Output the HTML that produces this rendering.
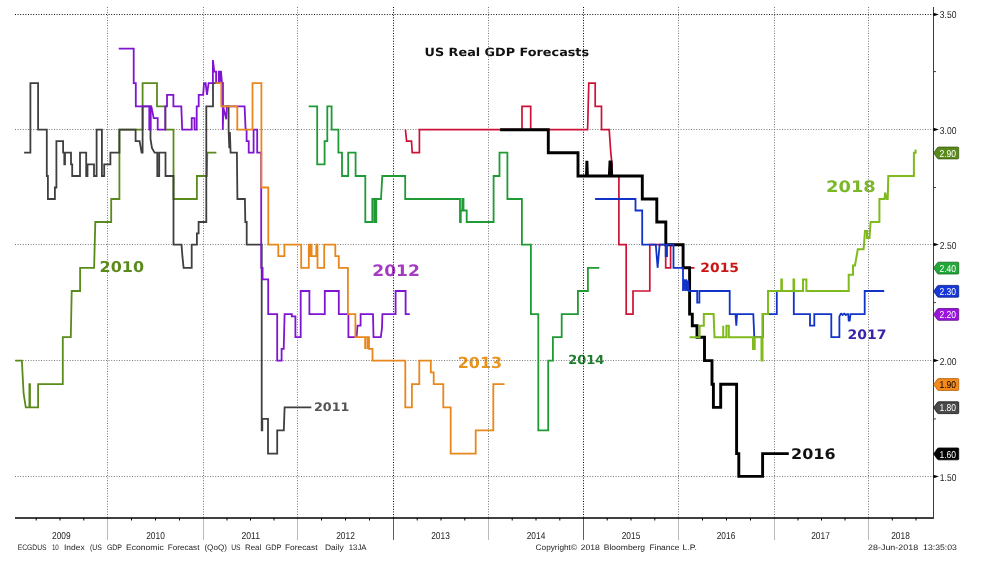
<!DOCTYPE html>
<html lang="en"><head><meta charset="utf-8"><title>US Real GDP Forecasts</title>
<style>html,body{margin:0;padding:0;background:#fff}body{width:984px;height:572px;overflow:hidden}svg{display:block}text{text-rendering:geometricPrecision}.ax{font-family:"Liberation Sans","DejaVu Sans",sans-serif;font-size:10px;fill:#1c1c1c}.ft{font-family:"Liberation Sans","DejaVu Sans",sans-serif;font-size:7.9px;fill:#1c1c1c}.lb{font-family:"DejaVu Sans","Liberation Sans",sans-serif;font-weight:bold}.tg{font-family:"Liberation Sans","DejaVu Sans",sans-serif;font-size:10px}</style></head><body>
<svg width="984" height="572" viewBox="0 0 984 572">
<rect width="984" height="572" fill="#fff"/>
<text class="lb" x="99.55" y="272.00" font-size="14.91" fill="#5b8a1c" textLength="44.46" lengthAdjust="spacingAndGlyphs">2010</text>
<text class="lb" x="313.95" y="411.00" font-size="11.82" fill="#555555" textLength="35.40" lengthAdjust="spacingAndGlyphs">2011</text>
<text class="lb" x="372.30" y="276.00" font-size="15.73" fill="#a23cc2" textLength="47.57" lengthAdjust="spacingAndGlyphs">2012</text>
<text class="lb" x="457.75" y="368.00" font-size="15.32" fill="#e8931e" textLength="44.36" lengthAdjust="spacingAndGlyphs">2013</text>
<text class="lb" x="568.15" y="364.00" font-size="12.51" fill="#1c7d2c" textLength="36.07" lengthAdjust="spacingAndGlyphs">2014</text>
<text class="lb" x="700.35" y="272.00" font-size="12.78" fill="#cc1414" textLength="38.62" lengthAdjust="spacingAndGlyphs">2015</text>
<text class="lb" x="791.10" y="459.00" font-size="14.56" fill="#111111" textLength="44.44" lengthAdjust="spacingAndGlyphs">2016</text>
<text class="lb" x="847.55" y="339.00" font-size="12.99" fill="#3a24a8" textLength="38.94" lengthAdjust="spacingAndGlyphs">2017</text>
<text class="lb" x="826.10" y="192.00" font-size="15.73" fill="#7ab828" textLength="49.68" lengthAdjust="spacingAndGlyphs">2018</text>
<text class="lb" x="424.55" y="56.00" font-size="11.40" fill="#111" textLength="164.57" lengthAdjust="spacingAndGlyphs">US Real GDP Forecasts</text>
<path d="M15.0 14.5H933.5" fill="none" stroke="#111" stroke-width="1" stroke-dasharray="1 1.6"/>
<path d="M15.0 129.5H933.5" fill="none" stroke="#7a7a7a" stroke-width="1" stroke-dasharray="1 1.6"/>
<path d="M15.0 244.5H933.5" fill="none" stroke="#7a7a7a" stroke-width="1" stroke-dasharray="1 1.6"/>
<path d="M15.0 360.5H933.5" fill="none" stroke="#7a7a7a" stroke-width="1" stroke-dasharray="1 1.6"/>
<path d="M15.0 476.5H933.5" fill="none" stroke="#7a7a7a" stroke-width="1" stroke-dasharray="1 1.6"/>
<path d="M107.5 7V517.9" fill="none" stroke="#777" stroke-width="1" stroke-dasharray="1 1.6"/>
<path d="M107.5 517.9V540" fill="none" stroke="#aaa" stroke-width="0.8"/>
<path d="M203.5 7V517.9" fill="none" stroke="#777" stroke-width="1" stroke-dasharray="1 1.6"/>
<path d="M203.5 517.9V540" fill="none" stroke="#aaa" stroke-width="0.8"/>
<path d="M297.5 7V517.9" fill="none" stroke="#777" stroke-width="1" stroke-dasharray="1 1.6"/>
<path d="M297.5 517.9V540" fill="none" stroke="#aaa" stroke-width="0.8"/>
<path d="M393.5 7V517.9" fill="none" stroke="#000" stroke-width="1" stroke-dasharray="1 1.6"/>
<path d="M393.5 517.9V540" fill="none" stroke="#333" stroke-width="0.8"/>
<path d="M488.5 7V517.9" fill="none" stroke="#777" stroke-width="1" stroke-dasharray="1 1.6"/>
<path d="M488.5 517.9V540" fill="none" stroke="#aaa" stroke-width="0.8"/>
<path d="M583.5 7V517.9" fill="none" stroke="#000" stroke-width="1" stroke-dasharray="1 1.6"/>
<path d="M583.5 517.9V540" fill="none" stroke="#333" stroke-width="0.8"/>
<path d="M678.5 7V517.9" fill="none" stroke="#777" stroke-width="1" stroke-dasharray="1 1.6"/>
<path d="M678.5 517.9V540" fill="none" stroke="#aaa" stroke-width="0.8"/>
<path d="M774.5 7V517.9" fill="none" stroke="#777" stroke-width="1" stroke-dasharray="1 1.6"/>
<path d="M774.5 517.9V540" fill="none" stroke="#aaa" stroke-width="0.8"/>
<path d="M868.5 7V517.9" fill="none" stroke="#777" stroke-width="1" stroke-dasharray="1 1.6"/>
<path d="M868.5 517.9V540" fill="none" stroke="#aaa" stroke-width="0.8"/>
<path d="M15.4 360.6L21.9 360.6L22.6 374.8L23.6 393.5L25.8 407.4L29.4 407.4L29.4 384.2L30.0 384.2L30.0 407.4L38.1 407.4L38.1 384.2L62.8 384.2L62.8 337.2L70.8 337.2L71.7 291.0L80.1 291.0L80.1 267.8L94.1 267.8L95.3 222.0L111.2 222.0L111.2 199.0L119.4 199.0L119.4 129.7L142.6 129.7L142.6 83.2L157.0 83.2L157.0 106.4L165.4 106.4L165.4 129.7L173.5 129.7L173.5 199.0L196.9 199.0L196.9 176.0L206.8 176.0L207.3 152.7L216.4 152.7" fill="none" stroke="#5b8a1c" stroke-width="1.8" stroke-linejoin="miter" stroke-miterlimit="1.5" stroke-linecap="butt"/>
<path d="M24.1 152.7L30.4 152.7L30.4 83.2L38.1 83.2L38.1 129.7L46.8 129.7L46.8 176.0L47.9 176.0L47.9 199.0L54.9 199.0L54.9 187.5L56.4 187.5L56.4 141.2L63.1 141.2L63.1 152.7L64.3 152.7L64.3 164.3L65.0 164.3L65.0 152.7L71.0 152.7L71.0 164.3L72.2 164.3L72.2 176.0L80.0 176.0L80.0 152.7L86.2 152.7L86.2 176.0L87.5 176.0L87.5 164.3L94.0 164.3L94.0 176.0L95.6 176.0L95.6 176.0L96.6 176.0L96.6 129.7L101.9 129.7L101.9 176.0L103.4 176.0L103.4 176.0L104.2 176.0L104.2 164.3L110.4 164.3L110.4 152.7L119.4 152.7L119.4 129.7L135.6 129.7L135.6 141.2L139.6 141.2L141.6 152.7L142.6 152.7L142.6 106.4L150.5 106.4L150.5 138.9L152.0 148.1L154.6 152.7L157.3 152.7L157.3 176.0L159.2 176.0L159.2 152.7L165.5 152.7L165.5 176.0L173.5 176.0L173.5 244.7L181.5 244.7L182.4 256.2L183.6 267.8L191.7 267.8L191.7 244.7L196.9 244.7L196.9 233.4L198.6 233.4L198.6 222.0L206.3 222.0L206.3 106.4L213.0 106.4L213.0 83.2L222.6 83.2L222.6 106.4L228.6 106.4L228.6 129.7L229.3 148.1L229.9 132.0L230.6 152.7L236.9 152.7L237.4 199.0L244.9 199.0L245.3 222.0L246.7 222.0L246.7 244.7L261.7 244.7L261.7 430.4L262.3 430.4L262.3 418.9L268.0 418.9L268.0 453.6L277.2 453.6L277.2 430.4L283.8 430.4L284.6 407.4L311.3 407.4" fill="none" stroke="#3f3f3f" stroke-width="1.8" stroke-linejoin="miter" stroke-miterlimit="1.5" stroke-linecap="butt"/>
<path d="M118.7 48.7L133.7 48.7L133.7 83.2L135.8 83.2L135.8 106.4L149.3 106.4L149.3 129.7L150.5 129.7L150.5 106.4L151.3 106.4L153.7 118.1L157.7 118.1L157.7 129.7L165.3 129.7L165.3 106.4L167.0 106.4L167.0 94.8L173.4 94.8L173.4 106.4L181.3 106.4L182.2 129.7L191.7 129.7L191.7 118.1L194.5 118.1L194.5 129.7L196.7 129.7L196.7 106.4L198.7 106.4L198.7 94.8L203.2 94.8L204.0 83.2L205.6 83.2L207.0 94.8L208.6 83.2L212.9 83.2L212.9 60.0L214.3 71.6L216.1 71.6L216.1 83.2L218.8 83.2L218.8 71.6L219.6 71.6L219.6 80.9L220.3 80.9L220.3 71.6L221.0 71.6L222.0 83.2L222.8 83.2L222.8 129.7L223.4 107.6L226.3 119.2L226.9 106.4L244.6 106.4L245.6 129.7L246.6 129.7L246.6 141.2L248.7 141.2L248.7 152.7L253.6 152.7L253.6 129.7L257.2 129.7L257.2 152.7L261.2 152.7L261.2 267.8L262.6 267.8L262.6 279.4L268.2 279.4L268.2 314.1L277.2 314.1L277.2 360.6L281.6 360.6L281.6 348.9L283.7 348.9L284.6 314.1L291.8 314.1L291.8 316.4L295.4 316.4L295.4 337.2L300.7 337.2L300.7 291.0L309.4 291.0L309.4 314.1L324.8 314.1L324.8 291.0L338.8 291.0L338.8 314.1L348.4 314.1L348.4 337.2L356.6 337.2L357.5 325.7L360.6 325.7L360.6 314.1L373.0 314.1L373.5 337.2L380.8 337.2L382.0 328.0L382.4 314.1L395.6 314.1L395.6 291.0L405.6 291.0L405.6 314.1L409.8 314.1" fill="none" stroke="#8014d0" stroke-width="1.8" stroke-linejoin="miter" stroke-miterlimit="1.5" stroke-linecap="butt"/>
<path d="M215.5 83.2L221.3 83.2L221.3 106.4L237.3 106.4L237.3 129.7L252.5 129.7L252.5 83.2L261.4 83.2L261.4 187.5L268.3 187.5L268.3 244.7L278.3 244.7L278.3 256.2L284.4 256.2L284.4 244.7L301.2 244.7L301.2 267.8L308.8 267.8L308.8 244.7L310.3 244.7L310.3 256.2L311.0 256.2L311.0 244.7L311.6 244.7L311.6 256.2L316.3 256.2L316.3 244.7L317.5 244.7L317.5 267.8L324.2 267.8L324.2 244.7L335.3 244.7L335.3 256.2L338.8 256.2L338.8 267.8L347.9 267.8L347.9 314.1L355.4 314.1L355.4 337.2L365.1 337.2L365.1 348.9L365.1 337.2L367.3 337.2L367.3 348.9L367.3 337.2L369.0 337.2L369.0 348.9L372.5 348.9L372.5 360.6L405.3 360.6L405.3 407.4L411.9 407.4L411.9 384.2L419.3 384.2L419.3 360.6L430.8 360.6L430.8 372.4L433.7 372.4L433.7 384.2L443.3 384.2L443.3 407.4L450.7 407.4L450.7 453.6L475.7 453.6L475.7 430.4L493.3 430.4L493.3 384.2L504.5 384.2" fill="none" stroke="#e8871c" stroke-width="1.8" stroke-linejoin="miter" stroke-miterlimit="1.5" stroke-linecap="butt"/>
<path d="M308.7 106.4L317.2 106.4L317.2 164.3L324.6 164.3L324.6 141.2L327.3 141.2L327.3 106.4L331.6 106.4L331.6 129.7L338.4 129.7L338.4 152.7L342.0 152.7L342.0 176.0L348.2 176.0L348.2 152.7L355.6 152.7L355.6 176.0L365.3 176.0L365.3 222.0L372.3 222.0L372.3 199.0L374.3 199.0L374.3 222.0L375.0 222.0L375.0 199.0L375.7 199.0L375.7 222.0L376.3 222.0L376.3 199.0L381.0 199.0L382.3 176.0L405.2 176.0L405.2 199.0L460.0 199.0L460.0 222.0L460.8 222.0L460.8 210.5L462.3 210.5L462.3 199.0L463.5 199.0L463.5 210.5L466.7 210.5L466.7 222.0L493.6 222.0L493.6 176.0L499.5 176.0L499.5 152.7L507.4 152.7L507.4 199.0L521.9 199.0L521.9 244.7L530.9 244.7L530.9 314.1L538.3 314.1L538.3 430.4L548.2 430.4L548.2 360.6L552.9 360.6L552.9 337.2L561.7 337.2L561.7 314.1L577.9 314.1L577.9 291.0L587.9 291.0L587.9 267.8L599.3 267.8" fill="none" stroke="#1f9a34" stroke-width="1.8" stroke-linejoin="miter" stroke-miterlimit="1.5" stroke-linecap="butt"/>
<path d="M405.4 129.7L406.6 141.2L411.5 141.2L412.2 152.7L419.4 152.7L419.4 129.7L522.0 129.7L522.0 106.4L530.7 106.4L530.7 129.7L587.6 129.7L588.8 83.2L595.2 83.2L595.2 106.4L601.5 106.4L601.5 129.7L609.2 129.7L610.8 152.7L612.0 164.3L612.0 176.0L618.9 176.0L618.9 244.7L626.2 244.7L626.2 314.1L633.0 314.1L633.0 291.0L649.8 291.0L649.8 244.7L665.7 244.7L665.7 267.8L670.6 267.8L670.6 244.7L683.1 244.7L683.1 267.8L694.5 267.8" fill="none" stroke="#cc1236" stroke-width="1.7" stroke-linejoin="miter" stroke-miterlimit="1.5" stroke-linecap="butt"/>
<path d="M500.1 129.7L548.3 129.7L548.3 152.7L578.0 152.7L578.0 176.0L586.5 176.0L586.9 160.9L587.4 176.0L609.3 176.0L610.0 162.0L611.0 162.0L611.7 176.0L642.3 176.0L642.3 199.0L656.8 199.0L656.8 222.0L665.8 222.0L665.8 244.7L683.1 244.7L683.1 267.8L689.6 267.8L689.6 314.1L692.3 314.1L692.3 325.7L697.0 325.7L697.0 337.2L704.5 337.2L704.5 360.6L712.0 360.6L712.0 384.2L713.4 384.2L713.4 407.4L720.7 407.4L720.7 384.2L736.6 384.2L736.6 453.6L738.8 453.6L738.8 476.4L762.6 476.4L762.6 453.6L788.8 453.6" fill="none" stroke="#000000" stroke-width="2.9" stroke-linejoin="miter" stroke-miterlimit="1.5" stroke-linecap="butt"/>
<path d="M595.1 199.0L635.5 199.0L635.5 210.5L642.2 210.5L642.2 244.7L655.8 244.7L657.6 267.8L659.6 244.7L665.7 244.7L665.7 256.2L667.0 256.2L667.0 244.7L673.5 244.7L673.5 267.8L683.0 267.8L683.0 291.0L684.2 279.4L685.2 291.0L686.2 279.4L687.2 291.0L688.0 280.6L688.7 291.0L697.2 291.0L697.2 302.6L699.4 302.6L699.4 291.0L729.7 291.0L729.7 314.1L735.5 314.1L736.3 325.7L737.1 314.1L753.3 314.1L754.3 337.2L762.8 337.2L762.8 314.1L776.8 314.1L776.8 291.0L793.8 291.0L793.8 314.1L810.0 314.1L810.0 325.7L814.3 325.7L814.3 314.1L831.3 314.1L831.3 337.2L839.4 337.2L839.4 316.4L841.0 313.4L842.5 315.0L844.2 313.6L845.8 315.0L847.0 314.1L848.2 314.1L848.7 320.6L849.7 320.6L850.5 314.1L864.7 314.1L864.7 291.0L884.2 291.0" fill="none" stroke="#1233c8" stroke-width="1.8" stroke-linejoin="miter" stroke-miterlimit="1.5" stroke-linecap="butt"/>
<path d="M689.5 337.2L699.6 337.2L699.6 325.7L703.8 325.7L703.8 314.1L713.6 314.1L714.5 337.2L723.2 337.2L723.2 325.7L723.2 337.2L726.4 337.2L726.4 325.7L728.8 325.7L728.8 337.2L753.0 337.2L753.0 348.9L754.7 348.9L754.7 337.2L761.5 337.2L761.5 360.6L762.5 360.6L762.5 314.1L768.0 314.1L768.0 291.0L781.3 291.0L781.3 279.4L781.9 279.4L781.9 291.0L793.5 291.0L793.5 279.4L794.1 279.4L794.1 291.0L803.0 291.0L803.0 279.4L806.4 279.4L806.4 291.0L848.7 291.0L848.7 274.8L853.0 274.8L853.0 265.5L855.0 265.5L857.8 249.3L863.6 249.3L865.0 231.1L867.0 231.1L867.0 237.9L869.5 237.9L870.6 222.0L879.4 222.0L879.4 199.0L884.6 199.0L885.1 192.6L886.8 199.0L887.7 199.0L888.3 176.0L913.9 176.0L913.9 152.7L915.6 152.7L915.6 150.4L916.4 150.4" fill="none" stroke="#7fba1e" stroke-width="2.0" stroke-linejoin="miter" stroke-miterlimit="1.5" stroke-linecap="butt"/>
<path d="M15.0 517.9H934.0" stroke="#000" stroke-width="1.5" fill="none"/>
<path d="M933.5 7V517.9" stroke="#3c3c3c" stroke-width="1" fill="none"/>
<path d="M36.2 517.9v2.6M60.0 517.9v2.6M83.8 517.9v2.6M131.5 517.9v2.6M155.5 517.9v2.6M179.5 517.9v2.6M227.0 517.9v2.6M250.5 517.9v2.6M274.0 517.9v2.6M321.5 517.9v2.6M345.5 517.9v2.6M369.5 517.9v2.6M417.2 517.9v2.6M441.0 517.9v2.6M464.8 517.9v2.6M512.2 517.9v2.6M536.0 517.9v2.6M559.8 517.9v2.6M607.2 517.9v2.6M631.0 517.9v2.6M654.8 517.9v2.6M702.5 517.9v2.6M726.5 517.9v2.6M750.5 517.9v2.6M798.0 517.9v2.6M821.5 517.9v2.6M845.0 517.9v2.6M892.3 517.9v2.6M916.0 517.9v2.6" stroke="#000" stroke-width="1" fill="none"/>
<path d="M933.5 71.6h2.4M933.5 187.5h2.4M933.5 302.6h2.4M933.5 418.9h2.4" stroke="#333" stroke-width="1" fill="none"/>
<path d="M933.5 12.7l5.4 1.8l-5.4 1.8z" fill="#000"/>
<text class="ax" x="939.8" y="17.9" textLength="16.6" lengthAdjust="spacingAndGlyphs">3.50</text>
<path d="M933.5 127.7l5.4 1.8l-5.4 1.8z" fill="#000"/>
<text class="ax" x="939.8" y="133.8" textLength="16.6" lengthAdjust="spacingAndGlyphs">3.00</text>
<path d="M933.5 242.7l5.4 1.8l-5.4 1.8z" fill="#000"/>
<text class="ax" x="939.8" y="248.8" textLength="16.6" lengthAdjust="spacingAndGlyphs">2.50</text>
<path d="M933.5 358.7l5.4 1.8l-5.4 1.8z" fill="#000"/>
<text class="ax" x="939.8" y="365.3" textLength="16.6" lengthAdjust="spacingAndGlyphs">2.00</text>
<path d="M933.5 474.7l5.4 1.8l-5.4 1.8z" fill="#000"/>
<text class="ax" x="939.8" y="480.8" textLength="16.6" lengthAdjust="spacingAndGlyphs">1.50</text>
<path d="M933.7 153.0l3.6 -5.2q0.5 -0.7 1.4 -0.7h19.2q0.8 0 0.8 0.8v10.2q0 0.8 -0.8 0.8h-19.2q-0.9 0 -1.4 -0.7z" fill="#5b8a1c" stroke="#3c5c10" stroke-width="0.8"/>
<text class="tg" x="939.5" y="156.6" fill="#fff" textLength="16.6" lengthAdjust="spacingAndGlyphs">2.90</text>
<path d="M933.7 268.1l3.6 -5.2q0.5 -0.7 1.4 -0.7h19.2q0.8 0 0.8 0.8v10.2q0 0.8 -0.8 0.8h-19.2q-0.9 0 -1.4 -0.7z" fill="#22a838" stroke="#126a20" stroke-width="0.8"/>
<text class="tg" x="939.5" y="271.7" fill="#fff" textLength="16.6" lengthAdjust="spacingAndGlyphs">2.40</text>
<path d="M933.7 291.3l3.6 -5.2q0.5 -0.7 1.4 -0.7h19.2q0.8 0 0.8 0.8v10.2q0 0.8 -0.8 0.8h-19.2q-0.9 0 -1.4 -0.7z" fill="#1738d8" stroke="#081c84" stroke-width="0.8"/>
<text class="tg" x="939.5" y="294.9" fill="#fff" textLength="16.6" lengthAdjust="spacingAndGlyphs">2.30</text>
<path d="M933.7 314.4l3.6 -5.2q0.5 -0.7 1.4 -0.7h19.2q0.8 0 0.8 0.8v10.2q0 0.8 -0.8 0.8h-19.2q-0.9 0 -1.4 -0.7z" fill="#9a14dc" stroke="#5c0888" stroke-width="0.8"/>
<text class="tg" x="939.5" y="318.0" fill="#fff" textLength="16.6" lengthAdjust="spacingAndGlyphs">2.20</text>
<path d="M933.7 384.5l3.6 -5.2q0.5 -0.7 1.4 -0.7h19.2q0.8 0 0.8 0.8v10.2q0 0.8 -0.8 0.8h-19.2q-0.9 0 -1.4 -0.7z" fill="#f58a1c" stroke="#b05c06" stroke-width="0.8"/>
<text class="tg" x="939.5" y="388.1" fill="#000" textLength="16.6" lengthAdjust="spacingAndGlyphs">1.90</text>
<path d="M933.7 407.7l3.6 -5.2q0.5 -0.7 1.4 -0.7h19.2q0.8 0 0.8 0.8v10.2q0 0.8 -0.8 0.8h-19.2q-0.9 0 -1.4 -0.7z" fill="#4a4a4a" stroke="#111" stroke-width="0.8"/>
<text class="tg" x="939.5" y="411.3" fill="#fff" textLength="16.6" lengthAdjust="spacingAndGlyphs">1.80</text>
<path d="M933.7 453.9l3.6 -5.2q0.5 -0.7 1.4 -0.7h19.2q0.8 0 0.8 0.8v10.2q0 0.8 -0.8 0.8h-19.2q-0.9 0 -1.4 -0.7z" fill="#000" stroke="#000" stroke-width="0.8"/>
<text class="tg" x="939.5" y="457.5" fill="#fff" textLength="16.6" lengthAdjust="spacingAndGlyphs">1.60</text>
<text class="ax" x="52.0" y="538.7" textLength="18.6" lengthAdjust="spacingAndGlyphs">2009</text>
<text class="ax" x="146.2" y="538.7" textLength="18.6" lengthAdjust="spacingAndGlyphs">2010</text>
<text class="ax" x="241.4" y="538.7" textLength="18.6" lengthAdjust="spacingAndGlyphs">2011</text>
<text class="ax" x="336.2" y="538.7" textLength="18.6" lengthAdjust="spacingAndGlyphs">2012</text>
<text class="ax" x="431.2" y="538.7" textLength="18.6" lengthAdjust="spacingAndGlyphs">2013</text>
<text class="ax" x="526.7" y="538.7" textLength="18.6" lengthAdjust="spacingAndGlyphs">2014</text>
<text class="ax" x="621.7" y="538.7" textLength="18.6" lengthAdjust="spacingAndGlyphs">2015</text>
<text class="ax" x="716.7" y="538.7" textLength="18.6" lengthAdjust="spacingAndGlyphs">2016</text>
<text class="ax" x="811.2" y="538.7" textLength="18.6" lengthAdjust="spacingAndGlyphs">2017</text>
<text class="ax" x="891.2" y="538.7" textLength="18.6" lengthAdjust="spacingAndGlyphs">2018</text>
<text class="ft" y="549.9"><tspan class="wd" x="17.75" textLength="28.75" lengthAdjust="spacingAndGlyphs">ECGDUS</tspan> <tspan class="wd" x="51.90" textLength="6.85" lengthAdjust="spacingAndGlyphs">10</tspan> <tspan class="wd" x="64.00" textLength="20.75" lengthAdjust="spacingAndGlyphs">Index</tspan> <tspan class="wd" x="90.00" textLength="11.90" lengthAdjust="spacingAndGlyphs">(US</tspan> <tspan class="wd" x="106.90" textLength="15.00" lengthAdjust="spacingAndGlyphs">GDP</tspan> <tspan class="wd" x="126.00" textLength="37.75" lengthAdjust="spacingAndGlyphs">Economic</tspan> <tspan class="wd" x="167.75" textLength="31.65" lengthAdjust="spacingAndGlyphs">Forecast</tspan> <tspan class="wd" x="204.40" textLength="22.50" lengthAdjust="spacingAndGlyphs">(QoQ)</tspan> <tspan class="wd" x="231.25" textLength="9.35" lengthAdjust="spacingAndGlyphs">US</tspan> <tspan class="wd" x="245.00" textLength="16.25" lengthAdjust="spacingAndGlyphs">Real</tspan> <tspan class="wd" x="265.60" textLength="15.65" lengthAdjust="spacingAndGlyphs">GDP</tspan> <tspan class="wd" x="285.00" textLength="32.50" lengthAdjust="spacingAndGlyphs">Forecast</tspan> <tspan class="wd" x="325.00" textLength="18.75" lengthAdjust="spacingAndGlyphs">Daily</tspan> <tspan class="wd" x="348.75" textLength="17.75" lengthAdjust="spacingAndGlyphs">13JA</tspan></text>
<text class="ft" y="549.9"><tspan class="wd" x="535.60" textLength="41.40" lengthAdjust="spacingAndGlyphs">Copyright&#169;</tspan> <tspan class="wd" x="580.75" textLength="19.15" lengthAdjust="spacingAndGlyphs">2018</tspan> <tspan class="wd" x="603.70" textLength="41.30" lengthAdjust="spacingAndGlyphs">Bloomberg</tspan> <tspan class="wd" x="649.40" textLength="30.00" lengthAdjust="spacingAndGlyphs">Finance</tspan> <tspan class="wd" x="682.60" textLength="14.30" lengthAdjust="spacingAndGlyphs">L.P.</tspan></text>
<text class="ft" y="549.9"><tspan class="wd" x="868.10" textLength="50.00" lengthAdjust="spacingAndGlyphs">28-Jun-2018</tspan> <tspan class="wd" x="923.10" textLength="33.80" lengthAdjust="spacingAndGlyphs">13:35:03</tspan></text>
</svg></body></html>
